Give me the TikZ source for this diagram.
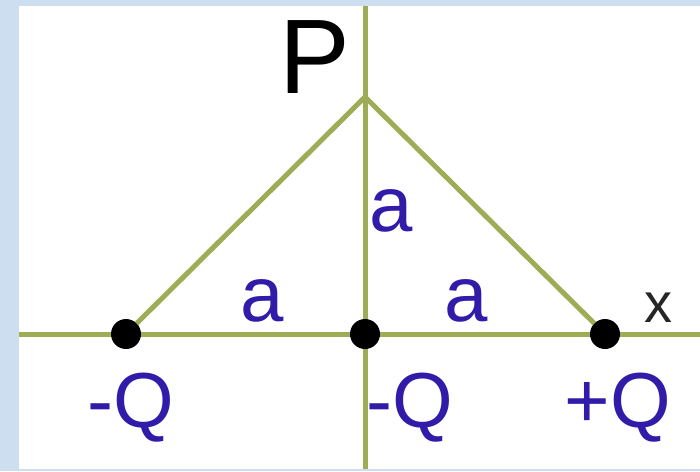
\documentclass[tikz,border=0pt]{standalone}
\usepackage{fontspec}
\setmainfont{Liberation Sans}
\usetikzlibrary{positioning}
\definecolor{axisgreen}{RGB}{158,172,86}
\definecolor{chargeblue}{RGB}{48,28,168}
\definecolor{panelblue}{RGB}{204,222,240}

\begin{document}
\begin{tikzpicture}[
  x=1pt, y=-1pt,
  line/.style={draw=axisgreen, line width=5pt},
  charge/.style={circle, fill=black, inner sep=0pt, minimum size=30pt},
  lbl/.style={text=chargeblue, inner sep=0pt, anchor=base, font=\fontsize{78}{80}\selectfont}
]
  \useasboundingbox (0,0) rectangle (700,471);
  \fill[panelblue] (0,0) rectangle (700,471);
  \fill[white] (19,6) rectangle (700,469);

  % axes
  \def\ax{334}
  \coordinate (xl) at (19,\ax);
  \coordinate (xr) at (700,\ax);
  \coordinate (yt) at (365,6);
  \coordinate (yb) at (365,469);
  \coordinate (P) at (365,97);
  \draw[line] (xl) -- (xr);
  \draw[line] (yt) -- (yb);

  % charges
  \foreach \name/\xpos in {ql/126, qm/365, qr/605} {
    \node[charge] (\name) at (\xpos,\ax) {};
  }
  \draw[line] (ql) -- (P) -- (qr);

  \node[anchor=base, inner sep=0pt, font=\fontsize{106}{110}\selectfont] (plbl) at (315,93) {P};
  \node[anchor=base, inner sep=0pt, text=black!85, font=\fontsize{56}{58}\selectfont] (xlbl) at (658,322) {x};
  \node[lbl] (avert) at (391,231) {a};
  \node[lbl] (aleft) at (262,321) {a};
  \node[lbl] (aright) at (466,321) {a};
  \node[lbl] (lblql) at (131,427) {-Q};
  \node[lbl] (lblqm) at (410,427) {-Q};
  \node[lbl] (lblqr) at (618,427) {+Q};
\end{tikzpicture}
\end{document}
